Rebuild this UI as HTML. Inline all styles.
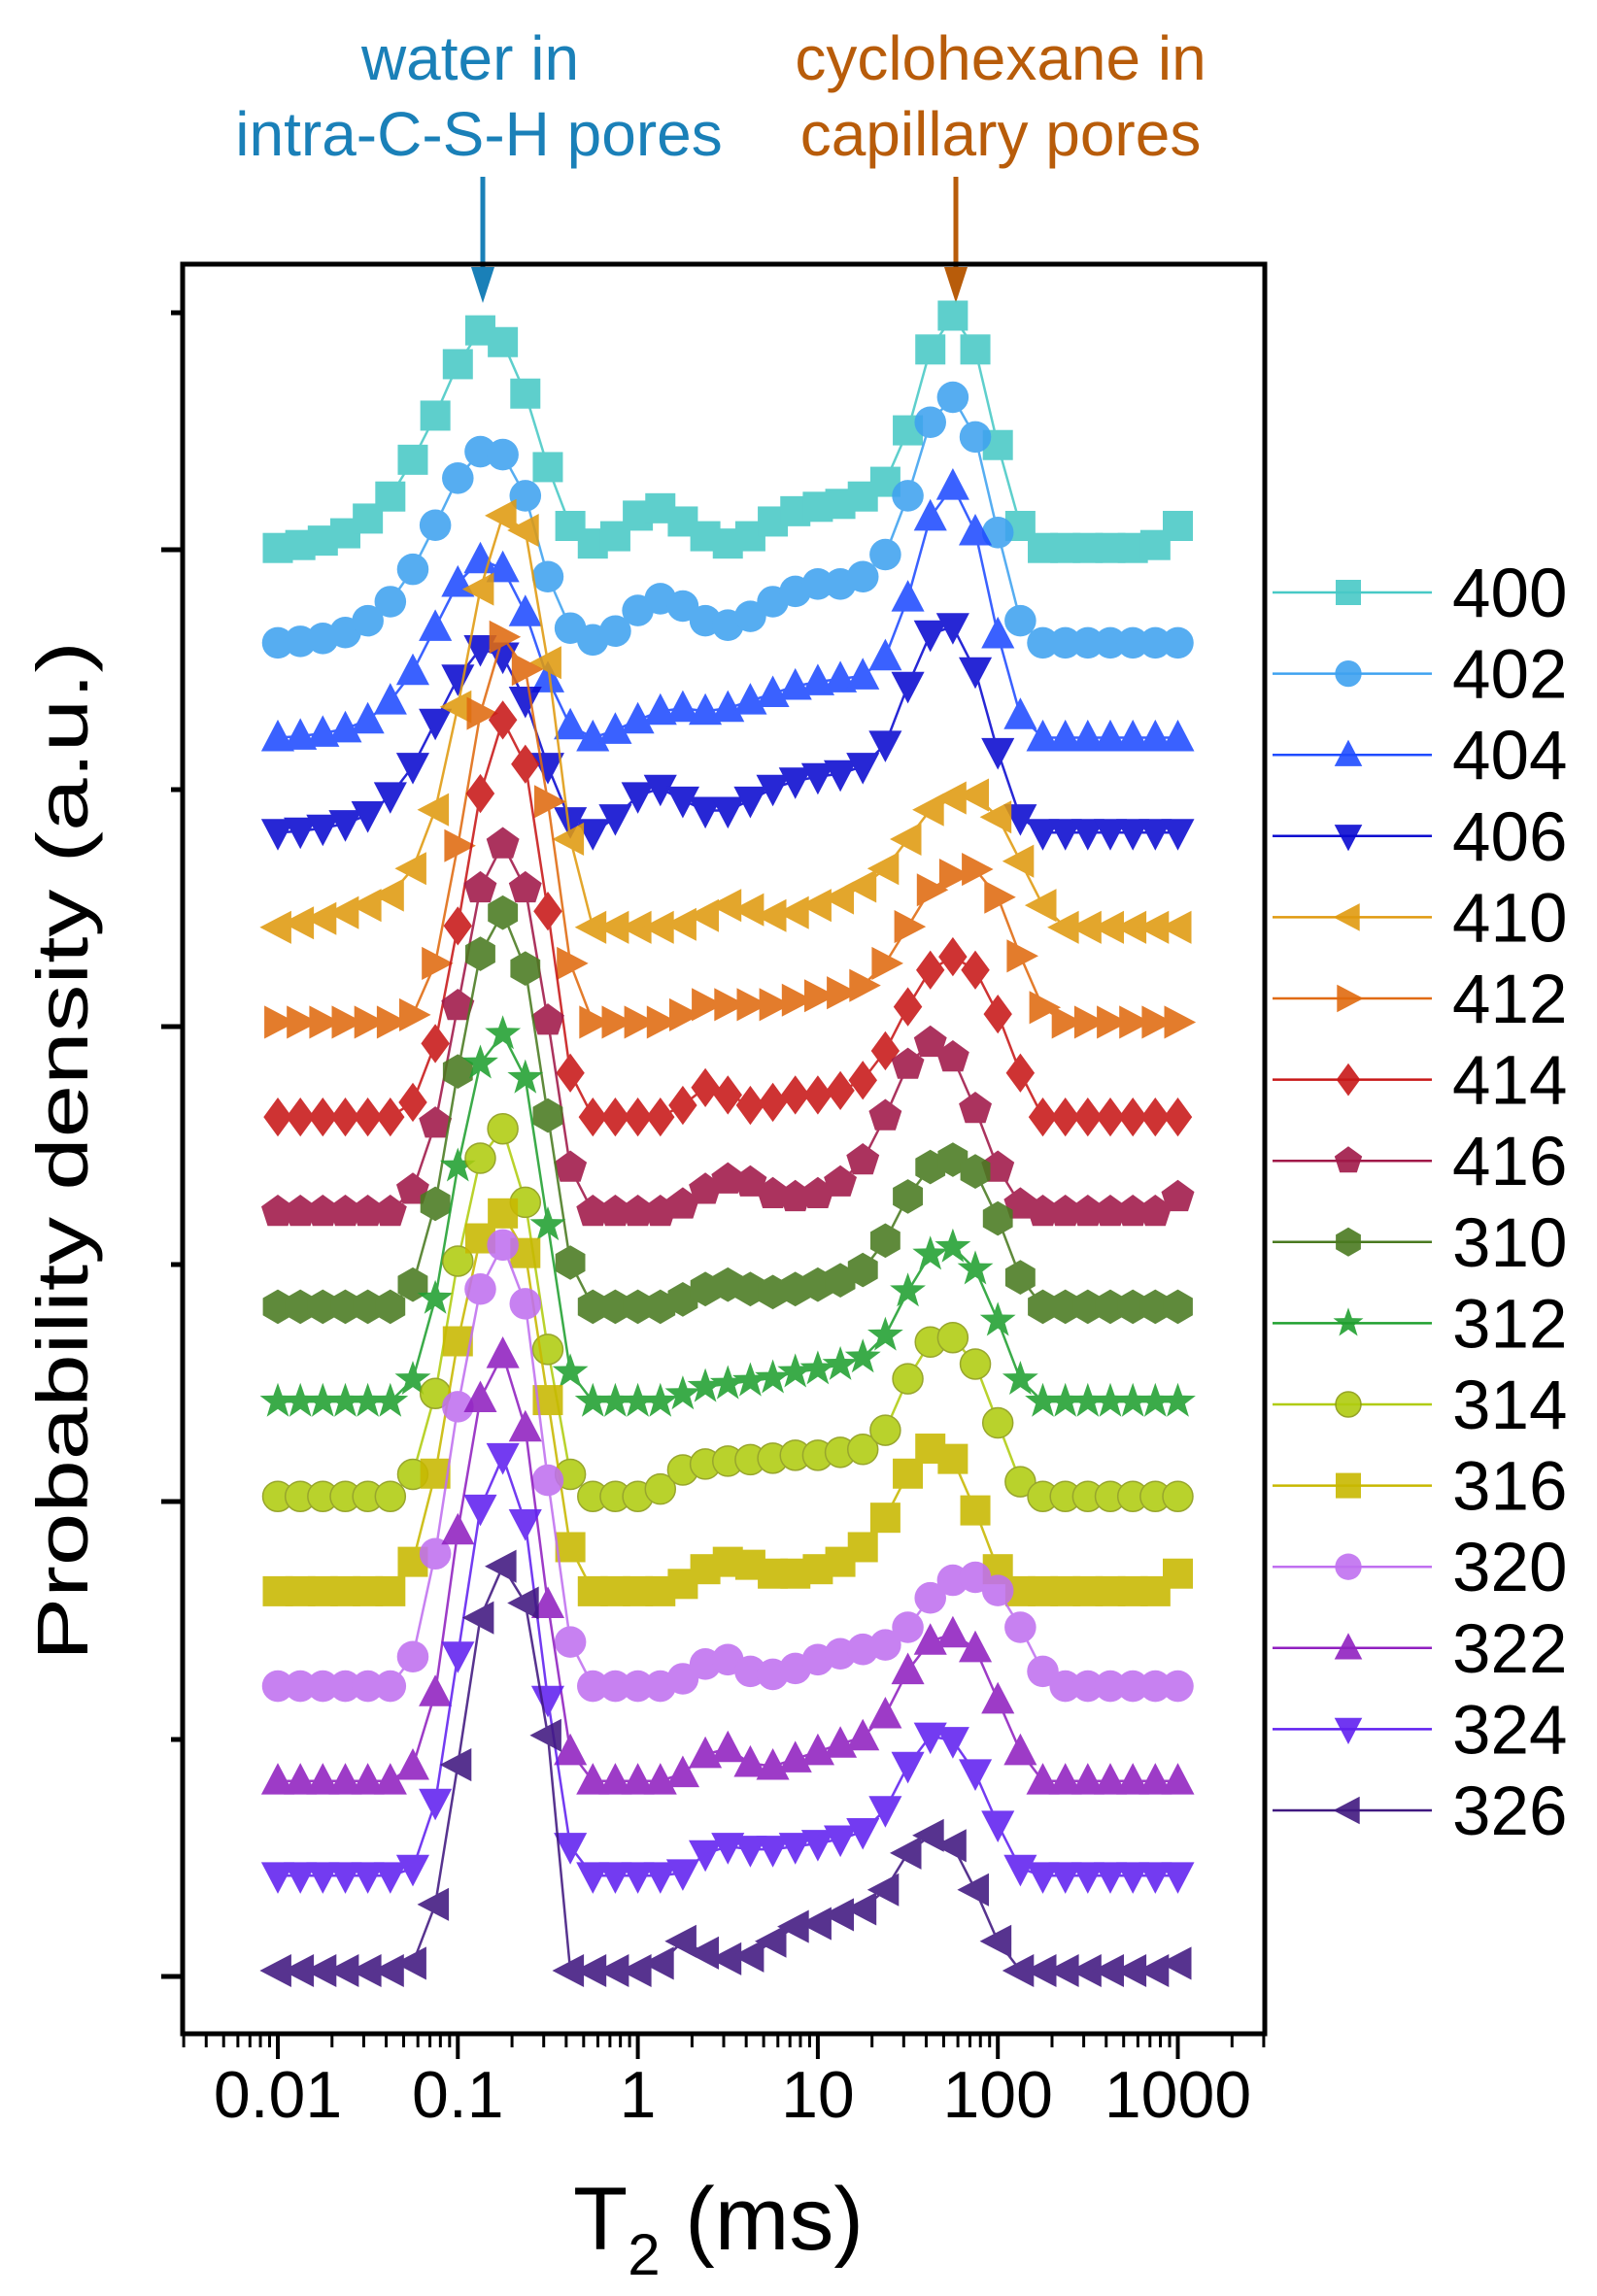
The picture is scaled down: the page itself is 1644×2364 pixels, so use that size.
<!DOCTYPE html>
<html><head><meta charset="utf-8"><style>
html,body{margin:0;padding:0;background:#fff}
svg{display:block}
text{font-family:"Liberation Sans",Arial,sans-serif}
</style></head><body>
<svg id="chart" width="1644" height="2364" viewBox="0 0 1644 2364" xmlns="http://www.w3.org/2000/svg">
<g id="annot">
  <text x="484" y="82" font-size="64" fill="#1a80b8" text-anchor="middle">water in</text>
  <text x="493" y="160" font-size="64" fill="#1a80b8" text-anchor="middle">intra-C-S-H pores</text>
  <line x1="497" y1="182" x2="497" y2="290" stroke="#1a80b8" stroke-width="5"/>
  <polygon points="485,275 509,275 497,312" fill="#1a80b8"/>
  <text x="1030" y="82" font-size="64" fill="#b85c0a" text-anchor="middle">cyclohexane in</text>
  <text x="1030" y="160" font-size="64" fill="#b85c0a" text-anchor="middle">capillary pores</text>
  <line x1="984" y1="182" x2="984" y2="290" stroke="#b85c0a" stroke-width="5"/>
  <polygon points="972,275 996,275 984,312" fill="#b85c0a"/>
</g>
<g id="series"></g>
<g id="axes"></g>
<g id="legend"></g>
<text transform="translate(90,1185) rotate(-90)" font-size="74" text-anchor="middle" textLength="1050" lengthAdjust="spacingAndGlyphs">Probability density (a.u.)</text>
<text x="590" y="2316" font-size="92">T<tspan font-size="60" dy="26">2</tspan><tspan dy="-26"> (ms)</tspan></text>
</svg>
<script>
const seriesNames = ["400","402","404","406","410","412","414","416","310","312","314","316","320","322","324","326"];
const xLogs = []; // log10(T2) grid from 0.01 to 1000
for (let i = 0; i <= 40; i++) xLogs.push(-2 + i * 0.125);
const s400 = [0,2,5,10,20,35,60,90,125,148,140,105,55,15,3,8,22,27,18,8,3,8,18,25,28,30,35,45,80,135,158,135,70,15,0,0,0,0,0,2,15];
const s402 = [0,1,3,7,15,28,50,80,112,130,128,100,45,10,2,8,22,30,25,15,12,18,28,35,40,40,45,60,100,150,167,140,75,15,0,0,0,0,0,0,0];
const s404 = [0,1,3,6,12,25,45,75,105,121,115,85,40,8,0,5,12,18,20,18,20,25,30,35,38,40,42,55,95,150,171,140,70,15,0,0,0,0,0,0,0];
const s406 = [0,1,3,6,12,25,45,75,105,125,120,90,45,8,0,10,25,30,22,15,15,22,30,35,38,40,45,60,100,135,140,110,55,10,0,0,0,0,0,0,0];
const s410 = [0,3,6,10,15,22,40,80,150,230,280,270,180,60,0,0,0,0,2,8,15,12,8,10,15,20,28,40,60,80,88,90,75,45,15,0,0,0,0,0,0];
const s412 = [0,0,0,0,0,0,5,40,120,210,262,240,150,40,0,0,0,0,5,12,12,12,12,15,18,20,25,40,65,90,100,104,85,45,10,0,0,0,0,0,0];
const s414 = [0,0,0,0,0,0,10,50,130,220,270,240,140,30,0,0,0,0,8,20,15,8,10,15,15,18,25,45,75,100,109,100,70,30,0,0,0,0,0,0,0];
const s416 = [0,0,0,0,0,0,15,60,140,220,250,220,130,30,0,0,0,0,5,15,22,20,12,10,12,20,35,65,100,115,105,70,30,5,0,0,0,0,0,0,10];
const s310 = [0,0,0,0,0,0,15,70,160,240,268,230,130,30,0,0,0,0,5,12,15,12,10,12,15,18,25,45,75,95,100,92,60,20,0,0,0,0,0,0,0];
const s312 = [0,0,0,0,0,0,15,70,160,230,250,220,120,20,0,0,0,0,5,10,12,14,16,20,22,25,30,45,75,100,105,90,55,15,0,0,0,0,0,0,0];
const s314 = [0,0,0,0,0,0,15,70,160,230,250,200,100,15,0,0,0,5,18,22,24,25,26,28,28,30,32,45,80,105,108,90,50,10,0,0,0,0,0,0,0];
const s316 = [0,0,0,0,0,0,20,80,170,240,257,230,130,30,0,0,0,0,5,15,20,18,12,12,15,20,30,50,80,97,90,55,15,0,0,0,0,0,0,0,12];
const s320 = [0,0,0,0,0,0,20,90,190,270,300,260,140,30,0,0,0,0,5,15,18,10,8,12,18,22,25,28,40,60,72,74,65,40,10,0,0,0,0,0,0];
const s322 = [0,0,0,0,0,0,10,60,170,260,290,240,120,20,0,0,0,0,5,18,22,12,10,15,20,25,30,45,75,95,100,90,55,20,0,0,0,0,0,0,0];
const s324 = [0,0,0,0,0,0,5,50,150,250,285,240,120,20,0,0,0,0,2,15,20,18,18,20,22,25,30,45,75,95,92,70,35,5,0,0,0,0,0,0,0];
const s326 = [0,0,0,0,0,0,5,45,140,240,275,250,160,0,0,0,0,5,20,12,8,10,20,30,32,38,42,55,80,92,85,55,20,0,0,0,0,0,0,0,5];
const seriesValues = [s400,s402,s404,s406,s410,s412,s414,s416,s310,s312,s314,s316,s320,s322,s324,s326];
const xTickLabels = ["0.01","0.1","1","10","100","1000"];
const xTickValues = [0.01,0.1,1,10,100,1000];

const colors = ["#48c9c6","#3fa2f0","#1f4cff","#0a0ad0","#e09a10","#e06a10","#c81818","#a01848","#4a7a20","#20a030","#b0cc10","#c8b800","#c070f0","#9020c0","#6020f0","#401880"];
const shapes = ["square","circle","up","down","left","right","diamond","pentagon","hexagon","star","ball","square","circle","up","down","left"];

const NS = "http://www.w3.org/2000/svg";
const PL = 188, PR = 1302, PT = 272, PB = 2094;
const X0 = 286, DEC = 185.3;
function xScale(t){ return X0 + (Math.log10(t) + 2) * DEC; }
function xScaleLog(l){ return X0 + (l + 2) * DEC; }
const UNIT = 1.514, BASE = 2029, SPACING = 64.5;
function yScale(seriesIdx, v){ return BASE - ((15 - seriesIdx) * SPACING + v) * UNIT; }

function mk(tag, attrs, parent){ const e = document.createElementNS(NS, tag); for (const k in attrs) e.setAttribute(k, attrs[k]); parent.appendChild(e); return e; }

function marker(shape, cx, cy, r, color, parent){
  let el;
  const poly = pts => pts.map(p => (cx+p[0]).toFixed(1)+","+(cy+p[1]).toFixed(1)).join(" ");
  if (shape === "square") el = mk("rect",{x:cx-r,y:cy-r,width:2*r,height:2*r,fill:color},parent);
  else if (shape === "circle") el = mk("circle",{cx:cx,cy:cy,r:r*1.05,fill:color},parent);
  else if (shape === "ball") { el = mk("circle",{cx:cx,cy:cy,r:r,fill:color,stroke:"#8a9a10","stroke-width":1.5},parent); }
  else if (shape === "up") el = mk("polygon",{points:poly([[0,-r*1.2],[r*1.1,r*0.9],[-r*1.1,r*0.9]]),fill:color},parent);
  else if (shape === "down") el = mk("polygon",{points:poly([[0,r*1.2],[r*1.1,-r*0.9],[-r*1.1,-r*0.9]]),fill:color},parent);
  else if (shape === "left") el = mk("polygon",{points:poly([[-r*1.2,0],[r*0.9,-r*1.1],[r*0.9,r*1.1]]),fill:color},parent);
  else if (shape === "right") el = mk("polygon",{points:poly([[r*1.2,0],[-r*0.9,-r*1.1],[-r*0.9,r*1.1]]),fill:color},parent);
  else if (shape === "diamond") el = mk("polygon",{points:poly([[0,-r*1.3],[r*0.95,0],[0,r*1.3],[-r*0.95,0]]),fill:color},parent);
  else if (shape === "pentagon" || shape === "hexagon") {
    const n = shape === "pentagon" ? 5 : 6; const pts = [];
    for (let k=0;k<n;k++){ const a = -Math.PI/2 + k*2*Math.PI/n; pts.push([Math.cos(a)*r*1.15, Math.sin(a)*r*1.15]); }
    el = mk("polygon",{points:poly(pts),fill:color},parent);
  } else if (shape === "star") {
    const pts = [];
    for (let k=0;k<10;k++){ const a = -Math.PI/2 + k*Math.PI/5; const rr = k%2 ? r*0.5 : r*1.25; pts.push([Math.cos(a)*rr, Math.sin(a)*rr]); }
    el = mk("polygon",{points:poly(pts),fill:color},parent);
  }
  return el;
}

const sg = document.getElementById("series");
seriesValues.forEach((vals, si) => {
  const g = mk("g", {opacity:0.88}, sg);
  
  
  const d = vals.map((v, i) => (i ? "L" : "M") + xScaleLog(xLogs[i]).toFixed(1) + "," + yScale(si, v).toFixed(1)).join(" ");
  const line = mk("path", {d:d, fill:"none", stroke:colors[si], "stroke-width":2.5}, g);
  
  
  vals.forEach((v, i) => {
    const m = marker(shapes[si], xScaleLog(xLogs[i]), yScale(si, v), 15.5, colors[si], g);
    
    
  });
});

const ax = document.getElementById("axes");
const frame = mk("rect", {x:PL, y:PT, width:PR-PL, height:PB-PT, fill:"none", stroke:"#000", "stroke-width":5}, ax);


for (let dec = -3; dec <= 3; dec++) {
  for (let m = 1; m <= 9; m++) {
    const t = m * Math.pow(10, dec); const x = xScale(t);
    if (x < PL || x > PR) continue;
    const major = m === 1;
    const tk = mk("line", {x1:x, y1:PB, x2:x, y2:PB + (major ? 26 : 14), stroke:"#000", "stroke-width":major ? 4 : 3}, ax);
    
    
  }
}
xTickValues.forEach((t, i) => {
  const tx = mk("text", {x:xScale(t), y:2180, "font-size":68, "text-anchor":"middle"}, ax);
  tx.textContent = xTickLabels[i];
  
  
});
const yMajor = [566, 1057, 1546, 2035], yMinor = [322, 813, 1302, 1791];
yMajor.forEach(y => { const t = mk("line",{x1:PL,y1:y,x2:PL-22,y2:y,stroke:"#000","stroke-width":5},ax);
    });
yMinor.forEach(y => { const t = mk("line",{x1:PL,y1:y,x2:PL-12,y2:y,stroke:"#000","stroke-width":5},ax);
    });

const lg = document.getElementById("legend");
seriesNames.forEach((n, i) => {
  const y = 610 + i * 83.6;
  const g = mk("g", {}, lg);
  
  
  mk("line", {x1:1310, y1:y, x2:1474, y2:y, stroke:colors[i], "stroke-width":2.5}, g);
  const m = marker(shapes[i], 1388, y, 13, colors[i], g);
  m.setAttribute('opacity', 0.9);
  const t = mk("text", {x:1495, y:y + 25, "font-size":71}, g);
  t.textContent = n;
});
</script>
</body></html>
